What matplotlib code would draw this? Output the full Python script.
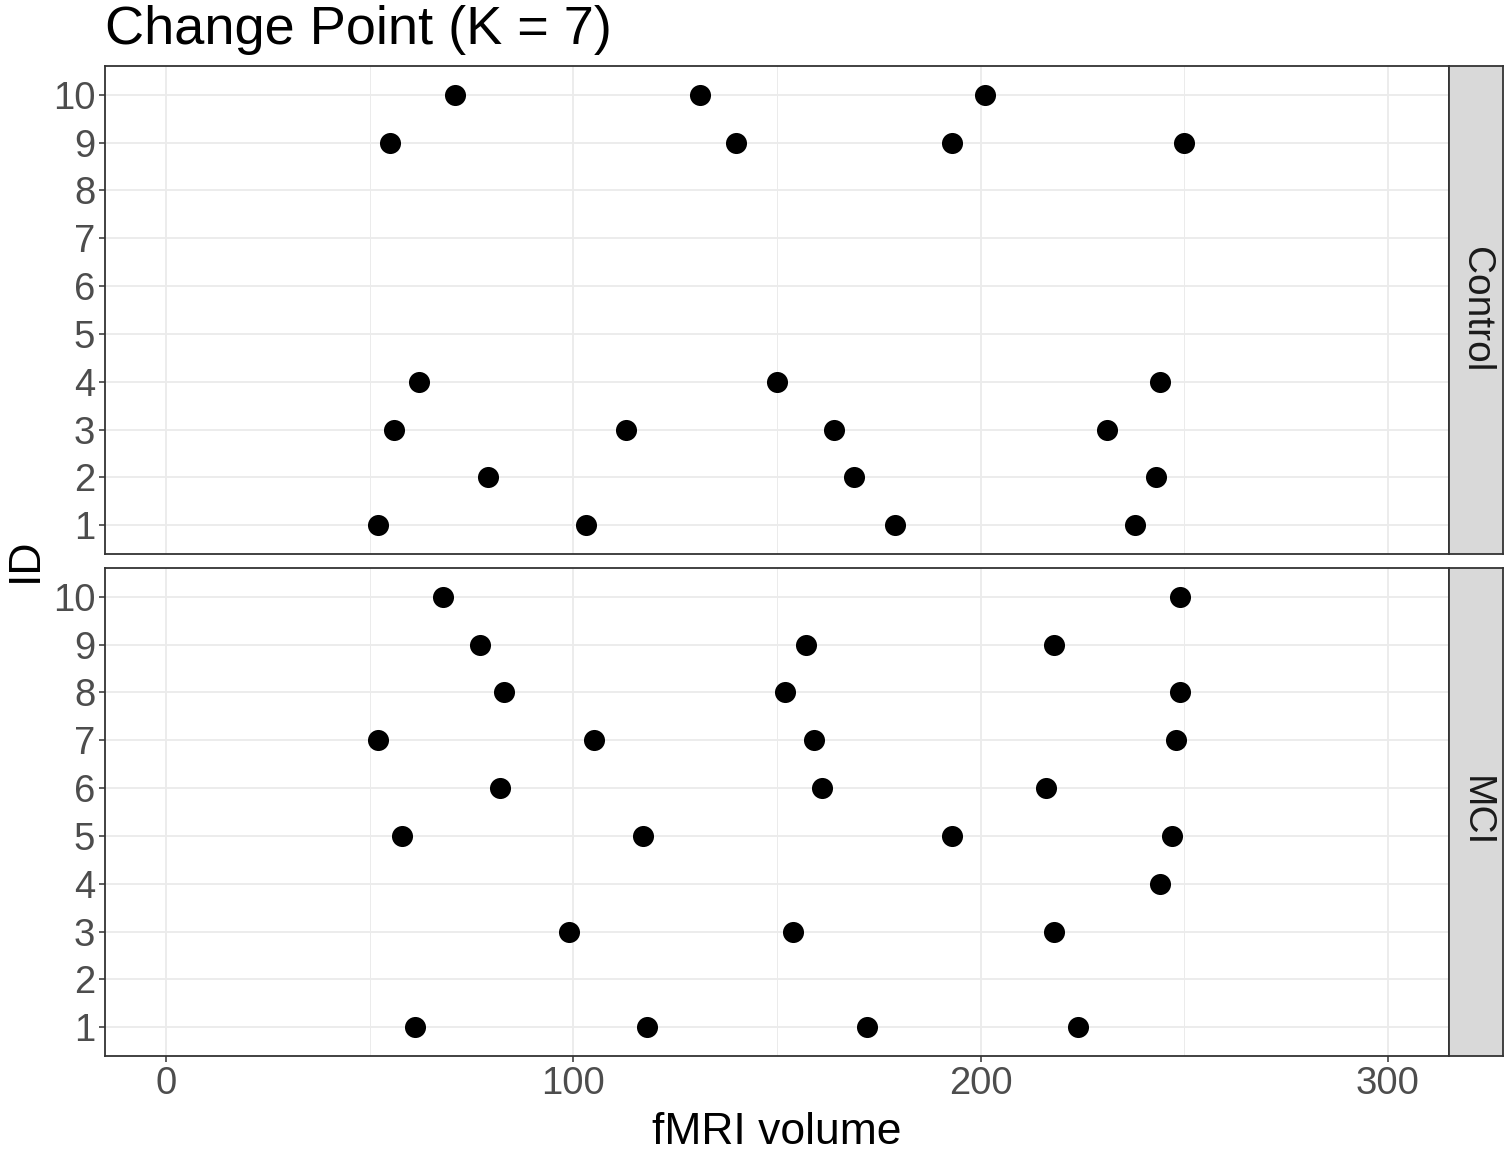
import matplotlib
matplotlib.use("Agg")
import matplotlib.pyplot as plt
from matplotlib.ticker import MultipleLocator

plt.rcParams['font.family'] = ['Liberation Sans', 'DejaVu Sans']

groups = ["Control", "MCI"]
ids = list(range(1, 11))
ctrl_id = [10, 10, 10, 9, 9, 9, 9, 4, 4, 4, 3, 3, 3, 3, 2, 2, 2, 1, 1, 1, 1]
ctrl_vol = [71, 131, 201, 55, 140, 193, 250, 62, 150, 244, 56, 113, 164, 231,
            79, 169, 243, 52, 103, 179, 238]
mci_id = [10, 10, 9, 9, 9, 8, 8, 8, 7, 7, 7, 7, 6, 6, 6, 5, 5, 5, 5, 4,
          3, 3, 3, 1, 1, 1, 1]
mci_vol = [68, 249, 77, 157, 218, 83, 152, 249, 52, 105, 159, 248, 82, 161, 216,
           58, 117, 193, 247, 244, 99, 154, 218, 61, 118, 172, 224]
x_ticks = [0, 100, 200, 300]
title = "Change Point (K = 7)"
xlabel = "fMRI volume"
ylabel = "ID"

W, H = 1510, 1151
fig = plt.figure(figsize=(W / 100, H / 100), dpi=100)

grey20 = "#333333"
grey30 = "#4D4D4D"
panels = [(66, 554), (568, 1056)]
left_px, right_px = 105, 1449
strip_w = 54
data = [(ctrl_id, ctrl_vol), (mci_id, mci_vol)]

for i, ((top, bot), grp, (yy, xx)) in enumerate(zip(panels, groups, data)):
    ax = fig.add_axes([left_px / W, 1 - bot / H, (right_px - left_px) / W, (bot - top) / H])
    ax.set_xlim(-15, 315)
    ax.set_ylim(0.4, 10.6)
    ax.xaxis.set_major_locator(MultipleLocator(100))
    ax.xaxis.set_minor_locator(MultipleLocator(50))
    ax.set_yticks(ids)
    ax.grid(True, which='major', color='#EBEBEB', linewidth=1.3)
    ax.grid(True, which='minor', axis='x', color='#EBEBEB', linewidth=0.7)
    ax.set_axisbelow(True)
    ax.scatter(xx, yy, s=230, color='black', zorder=3, linewidths=0)
    for sp in ax.spines.values():
        sp.set_color(grey20)
        sp.set_linewidth(1.3)
    ax.tick_params(axis='both', which='major', length=4, width=1.1, color=grey20,
                   labelsize=27.5, labelcolor=grey30, pad=3)
    ax.tick_params(axis='both', which='minor', length=0)
    if i == 0:
        ax.tick_params(axis='x', labelbottom=False, length=0)
    else:
        ax.set_xticks(x_ticks)
    # strip
    sax = fig.add_axes([right_px / W, 1 - bot / H, strip_w / W, (bot - top) / H])
    sax.set_facecolor('#D9D9D9')
    sax.set_xticks([])
    sax.set_yticks([])
    for sp in sax.spines.values():
        sp.set_color(grey20)
        sp.set_linewidth(1.3)
    sax.text(0.5, 0.5, grp, rotation=-90, ha='center', va='center',
             fontsize=28, color='#1A1A1A', transform=sax.transAxes)

fig.text(105 / W, 1 - 44 / H, title, fontsize=39, ha='left', va='baseline', color='black')
fig.text(((left_px + right_px) / 2) / W, 1 - 1144 / H, xlabel, fontsize=32,
         ha='center', va='baseline', color='black')
fig.text(25 / W, 1 - 560 / H, ylabel, fontsize=32, rotation=90,
         ha='center', va='center', color='black')

fig.savefig("out.png", dpi=100, facecolor='white')
